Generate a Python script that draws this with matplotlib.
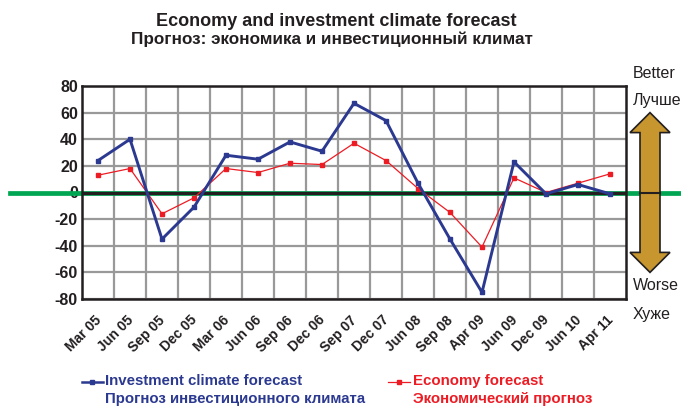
import matplotlib
matplotlib.use("Agg")
import matplotlib.pyplot as plt
import matplotlib.transforms as mtransforms
from matplotlib.patches import Polygon
from matplotlib.lines import Line2D

categories = ["Mar 05", "Jun 05", "Sep 05", "Dec 05", "Mar 06", "Jun 06", "Sep 06",
              "Dec 06", "Sep 07", "Dec 07", "Jun 08", "Sep 08", "Apr 09", "Jun 09",
              "Dec 09", "Jun 10", "Apr 11"]
investment = [24, 40, -35, -11, 28, 25, 38, 31, 67, 54, 7, -35, -75, 23, -1, 6, -1]
economy = [13, 18, -16, -4, 18, 15, 22, 21, 37, 24, 3, -15, -41, 11, 0, 7, 14]
yticks = [-80, -60, -40, -20, 0, 20, 40, 60, 80]

blue = "#2B3990"
red = "#ED1C24"
green = "#00A651"
gold = "#C8962E"
dark = "#231F20"

plt.rcParams['font.family'] = ['Liberation Sans', 'DejaVu Sans']

fig = plt.figure(figsize=(6.81, 4.07), dpi=100)
ax = fig.add_axes([82/681, 1-299/407, (626-82)/681, (299-86)/407])

x = list(range(len(categories)))
ax.set_xlim(-0.5, len(categories)-0.5)
ax.set_ylim(-80, 80)

# grid
ax.set_xticks([i + 0.5 for i in range(len(categories)-1)], minor=True)
ax.set_xticks(x)
ax.set_yticks(yticks)
ax.grid(True, which='minor', axis='x', color='#999999', lw=1.6)
ax.grid(True, which='major', axis='y', color='#999999', lw=1.6)
ax.set_axisbelow(True)
ax.tick_params(which='both', length=0)
ax.set_xticklabels(categories, rotation=45, ha='right', rotation_mode='anchor',
                   fontsize=10, fontweight='bold', color=dark)
ax.tick_params(axis='x', pad=10)
off = mtransforms.ScaledTranslation(-4/100, 0, fig.dpi_scale_trans)
for lab in ax.get_xticklabels():
    lab.set_transform(lab.get_transform() + off)
ax.set_yticklabels([str(v) for v in yticks], fontsize=11.5, fontweight='bold', color=dark)
ax.tick_params(axis='y', pad=3)
for s in ax.spines.values():
    s.set_color(dark)
    s.set_linewidth(1.8)
    s.set_zorder(4)

# green zero line extending across figure
bt = mtransforms.blended_transform_factory(fig.transFigure, ax.transData)
ax.plot([10/681, 1.0], [0, 0], transform=bt, color=green, lw=3.4, zorder=2, clip_on=False)
ax.axhline(0, color=dark, lw=2.3, zorder=3)

ax.plot(x, investment, color=blue, lw=2.1, marker='s', ms=3.5, zorder=5, clip_on=False)
ax.plot(x, economy, color=red, lw=0.9, marker='s', ms=2.8, zorder=4.5, clip_on=False)

# double arrow
cx = 650/681
hw = 20/681
sw = 10/681
hl = 15
pts = [(cx, 60), (cx+hw, 60-hl), (cx+sw, 60-hl), (cx+sw, -60+hl), (cx+hw, -60+hl),
       (cx, -60), (cx-hw, -60+hl), (cx-sw, -60+hl), (cx-sw, 60-hl), (cx-hw, 60-hl)]
arrow = Polygon(pts, closed=True, transform=bt, facecolor=gold, edgecolor=dark,
                lw=1.2, zorder=6, clip_on=False)
fig.add_artist(arrow)
fig.add_artist(Line2D([cx-sw, cx+sw], [0, 0], transform=bt, color=dark, lw=1.5, zorder=7))

# side labels
for txt, yy in [("Better", 74), ("Лучше", 101), ("Worse", 286), ("Хуже", 315)]:
    fig.text(633/681, 1-yy/407, txt, fontsize=11.5, color=dark, ha='left', va='center')

# title
fig.text(336/681, 1-21/407, "Economy and investment climate forecast", fontsize=13,
         fontweight='bold', ha='center', va='center', color=dark)
fig.text(332/681, 1-39/407, "Прогноз: экономика и инвестиционный климат", fontsize=12.3,
         fontweight='bold', ha='center', va='center', color=dark)

# legend
ly = 1-382/407
fig.add_artist(Line2D([82/681, 103/681], [ly, ly], transform=fig.transFigure, color=blue, lw=1.8))
fig.add_artist(Line2D([92/681], [ly], transform=fig.transFigure, color=blue,
                      marker='s', ms=3, lw=0))
fig.text(105/681, 1-381/407, "Investment climate forecast", fontsize=10.8, fontweight='bold',
         color=blue, ha='left', va='center')
fig.text(105/681, 1-399/407, "Прогноз инвестиционного климата", fontsize=10.8, fontweight='bold',
         color=blue, ha='left', va='center')
fig.add_artist(Line2D([388/681, 410/681], [ly, ly], transform=fig.transFigure,
                      color=red, lw=0.9))
fig.add_artist(Line2D([399/681], [ly], transform=fig.transFigure, color=red,
                      marker='s', ms=3, lw=0))
fig.text(413/681, 1-381/407, "Economy forecast", fontsize=10.8, fontweight='bold',
         color=red, ha='left', va='center')
fig.text(413/681, 1-399/407, "Экономический прогноз", fontsize=10.8, fontweight='bold',
         color=red, ha='left', va='center')

fig.savefig("out.png", dpi=100)
